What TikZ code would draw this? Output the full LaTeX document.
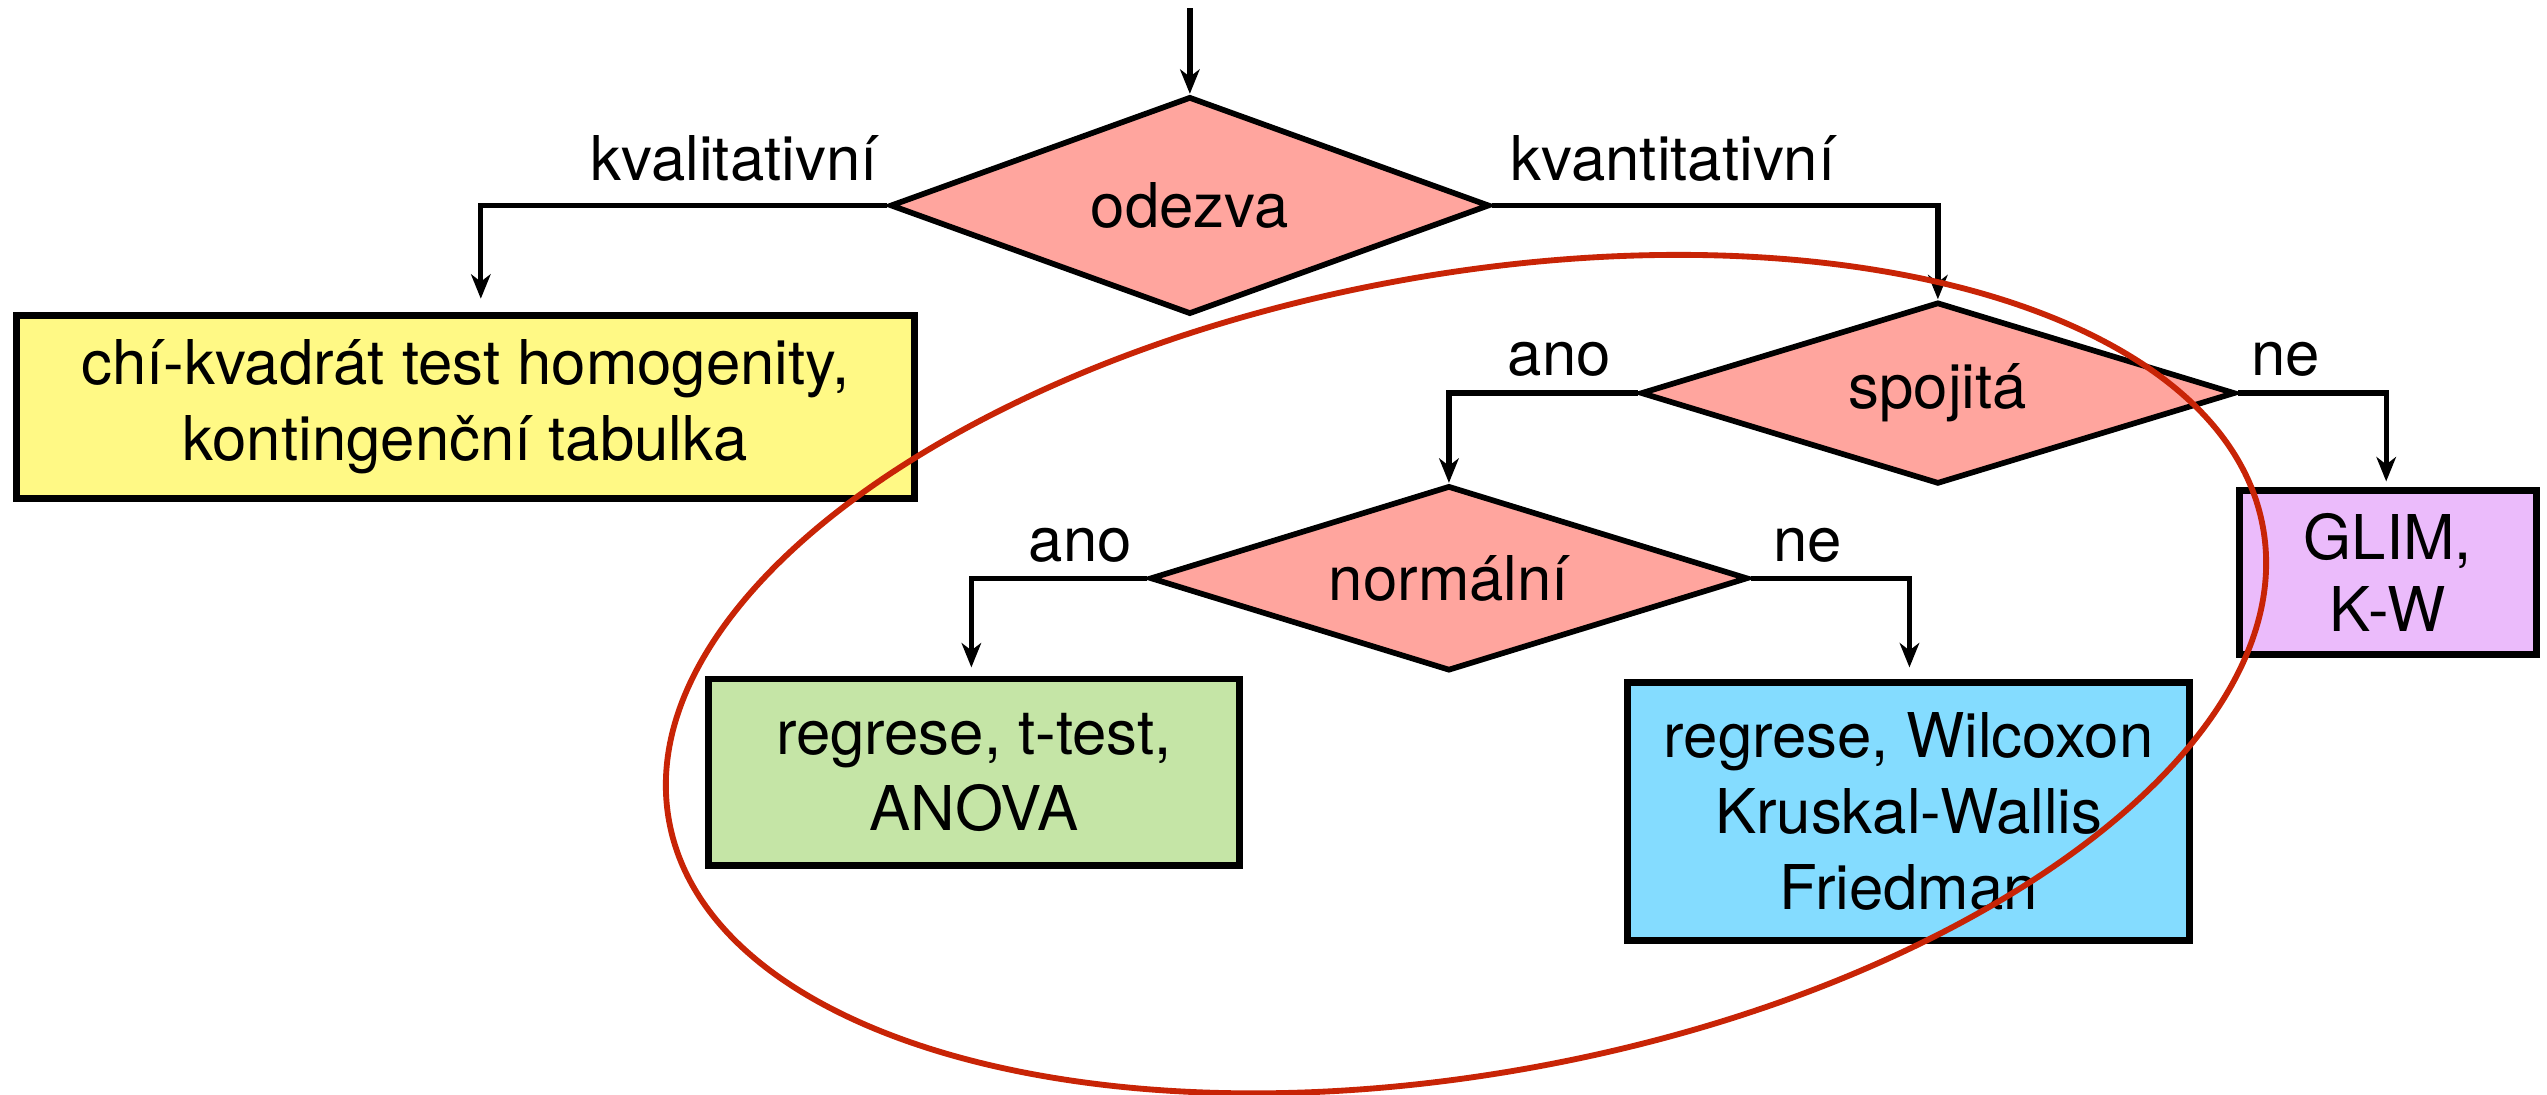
\documentclass[tikz,border=0pt]{standalone}
\usepackage{fontspec}
\setmainfont{TeX Gyre Heros}
\usetikzlibrary{arrows.meta,shapes.geometric}
\definecolor{dfill}{RGB}{255,165,158}
\definecolor{yfill}{RGB}{255,249,133}
\definecolor{gfill}{RGB}{197,229,166}
\definecolor{bfill}{RGB}{132,220,255}
\definecolor{pfill}{RGB}{235,187,251}
\definecolor{ered}{RGB}{200,36,6}
\newcommand{\fsz}{\fontsize{38}{47}\selectfont}
\tikzset{
  decision/.style={diamond, draw, line width=3.5pt, fill=dfill, inner sep=0pt, aspect=5, font=\fsz},
  result/.style={rectangle, draw, line width=4.2pt, inner sep=0pt, align=center, font=\fsz},
  lbl/.style={inner sep=0pt, font=\fsz},
  conn/.style={line width=3.3pt, -{Stealth[length=15pt,width=12pt,inset=4.5pt]}},
}
\begin{document}
\begin{tikzpicture}[x=1pt,y=1pt]
\fill[white] (0,0) rectangle (1568,-673.5);
\useasboundingbox (0,0) rectangle (1568,-673.5);

\coordinate (start) at (732.5,-5);
\node[decision, minimum width=369pt, minimum height=134pt] (odezva) at (732.5,-126.5) {odezva};
\node[decision, minimum width=366pt, minimum height=112pt] (spojita) at (1193,-242) {spojitá};
\node[decision, minimum width=368pt, minimum height=114pt] (normalni) at (892,-356) {normální};

\node[result, fill=yfill, minimum width=553pt, minimum height=113pt] (yellow) at (286.5,-250.5) {chí-kvadrát test homogenity,\\kontingenční tabulka};
\node[result, fill=pfill, minimum width=183pt, minimum height=101pt] (glim) at (1470,-352.5) {GLIM,\\[-3pt]K-W};
\node[result, fill=gfill, minimum width=327pt, minimum height=115pt] (green) at (599.5,-475.5) {regrese, t-test,\\ANOVA};
\node[result, fill=bfill, minimum width=346pt, minimum height=159pt] (blue) at (1175,-499.5) {regrese, Wilcoxon\\Kruskal-Wallis\\Friedman};

\node[lbl] (lkval) at (452,-97.5) {kvalitativní};
\node[lbl] (lkvant) at (1030,-97.5) {kvantitativní};
\node[lbl] (lano1) at (960,-221) {ano};
\node[lbl] (lne1) at (1407,-221) {ne};
\node[lbl] (lano2) at (665,-335.5) {ano};
\node[lbl] (lne2) at (1113,-335.5) {ne};

\draw[conn] (start) -- (odezva.north);
\draw[conn, shorten >=8pt] (odezva.west) -| ([xshift=9.5pt]yellow.north);
\draw[conn] (odezva.east) -| (spojita.north);
\draw[conn] (spojita.west) -| (normalni.north);
\draw[conn, shorten >=3.5pt] (spojita.east) -| ([xshift=-1pt]glim.north);
\draw[conn, shorten >=5pt] (normalni.west) -| ([xshift=-1.5pt]green.north);
\draw[conn, shorten >=7pt] (normalni.east) -| ([xshift=0.5pt]blue.north);

\draw[ered, line width=3.6pt, rotate around={10.5:(902.5,-415)}] (902.5,-415) ellipse [x radius=498.9, y radius=245.6];
\end{tikzpicture}
\end{document}
